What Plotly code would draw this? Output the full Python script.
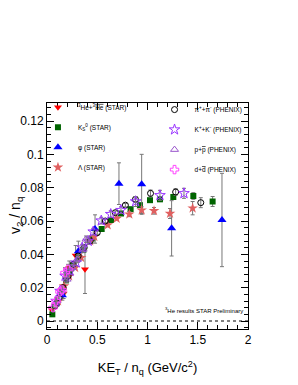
import plotly.graph_objects as go

# --- data ---
he3_x = [0.05, 0.105, 0.165, 0.222, 0.285, 0.378]
he3_y = [0.0065, 0.011, 0.0165, 0.032, 0.0393, 0.031]
he3_e = [0.002, 0.002, 0.003, 0.004, 0.006, 0.0145]

k0s_x = [0.053, 0.10, 0.15, 0.189, 0.225, 0.262, 0.31, 0.362, 0.451, 0.544, 0.637, 0.736, 0.832, 0.925, 1.025, 1.124, 1.257, 1.456, 1.648]
k0s_y = [0.004, 0.011, 0.017, 0.0244, 0.029, 0.033, 0.038, 0.0427, 0.0496, 0.0552, 0.0606, 0.0645, 0.0671, 0.0695, 0.0725, 0.073, 0.0744, 0.075, 0.0717]
k0s_e = [0.001, 0.001, 0.001, 0.001, 0.001, 0.001, 0.001, 0.001, 0.001, 0.001, 0.001, 0.001, 0.001, 0.001, 0.001, 0.001, 0.0015, 0.002, 0.003]

phi_x = [0.153, 0.312, 0.478, 0.716, 0.942, 1.24, 1.741]
phi_y = [0.0155, 0.0419, 0.0552, 0.0824, 0.082, 0.0556, 0.0606]
phi_e = [0.003, 0.006, 0.0085, 0.0125, 0.018, 0.0166, 0.028]

lam_x = [0.11, 0.17, 0.22, 0.28, 0.34, 0.43, 0.471, 0.604, 0.693, 0.819, 0.942, 1.065, 1.224, 1.449]
lam_y = [0.012, 0.021, 0.027, 0.032, 0.038, 0.048, 0.0506, 0.0576, 0.0615, 0.0641, 0.0665, 0.0661, 0.0645, 0.0677]
lam_e = [0.001, 0.001, 0.001, 0.001, 0.001, 0.001, 0.001, 0.001, 0.001, 0.0015, 0.002, 0.002, 0.003, 0.004]

pi_x = [0.08, 0.12, 0.16, 0.21, 0.26, 0.31, 0.37, 0.43, 0.50, 0.58, 0.68, 0.78, 0.88, 1.03, 1.28, 1.53]
pi_y = [0.009, 0.014, 0.020, 0.027, 0.034, 0.039, 0.044, 0.048, 0.053, 0.060, 0.065, 0.0695, 0.073, 0.0766, 0.0774, 0.071]
pi_e = [0.001, 0.001, 0.001, 0.001, 0.001, 0.001, 0.001, 0.001, 0.001, 0.001, 0.001, 0.001, 0.0015, 0.002, 0.002, 0.003]

k_x = [0.09, 0.13, 0.18, 0.23, 0.29, 0.35, 0.41, 0.46, 0.54, 0.634, 0.736, 0.882, 1.124, 1.363]
k_y = [0.012, 0.018, 0.027, 0.030, 0.035, 0.044, 0.048, 0.0536, 0.0602, 0.0641, 0.0665, 0.0717, 0.0754, 0.0766]
k_e = [0.001, 0.001, 0.002, 0.002, 0.002, 0.002, 0.002, 0.002, 0.002, 0.002, 0.002, 0.003, 0.003, 0.003]

p_x = [0.10, 0.15, 0.20, 0.25, 0.30, 0.36, 0.388]
p_y = [0.012, 0.018, 0.025, 0.032, 0.037, 0.043, 0.049]
p_e = [0.001, 0.001, 0.002, 0.002, 0.002, 0.002, 0.002]

d_x = [0.06, 0.09, 0.129, 0.149, 0.179, 0.21]
d_y = [0.008, 0.012, 0.0175, 0.0186, 0.029, 0.031]
d_e = [0.002, 0.002, 0.002, 0.002, 0.003, 0.003]

fig = go.Figure()

def add(x, y, e, name, symbol, color, legend, size=8, line=None):
    mk = dict(symbol=symbol, color=color, size=size)
    if line is not None:
        mk["line"] = dict(color=color, width=line)
    fig.add_trace(go.Scatter(
        x=x, y=y, mode="markers", name=name, legend=legend, legendgroup=name,
        marker=mk,
        error_y=dict(type="data", array=e, visible=True, color="#777777", thickness=1, width=2),
    ))

add(he3_x, he3_y, he3_e,
    "<sup>3</sup>He+<sup>3</sup><span style='text-decoration:overline'>He</span> (STAR)",
    "triangle-down", "#ff0000", "legend", size=7)
add(k0s_x, k0s_y, k0s_e, "K<sub>S</sub><sup>0</sup> (STAR)", "square", "#006400", "legend", size=6)
add(phi_x, phi_y, phi_e, "\u03c6 (STAR)", "triangle-up", "#0000ff", "legend", size=8)
add(lam_x, lam_y, lam_e, "\u039b (STAR)", "star", "#e06060", "legend", size=8)
add(pi_x, pi_y, pi_e, "\u03c0<sup>+</sup>+\u03c0<sup>-</sup> (PHENIX)", "circle-open", "#000000", "legend2", size=6, line=1)
add(k_x, k_y, k_e, "K<sup>+</sup>+K<sup>-</sup> (PHENIX)", "star-open", "#9933ff", "legend2", size=8, line=1)
add(p_x, p_y, p_e, "p+<span style='text-decoration:overline'>p</span> (PHENIX)", "triangle-up-open", "#9955cc", "legend2", size=7, line=1)
add(d_x, d_y, d_e, "d+<span style='text-decoration:overline'>d</span> (PHENIX)", "cross-open", "#ff44ff", "legend2", size=7, line=1)

fig.add_shape(type="line", xref="paper", yref="y", x0=0, x1=1, y0=0, y1=0,
              line=dict(color="black", width=1, dash="dot"))

fig.add_annotation(text="<sup>3</sup>He results STAR Preliminary", x=0.985, y=0.003,
                   xref="paper", yref="y", xanchor="right", yanchor="bottom",
                   showarrow=False, font=dict(size=6, color="black"))

# y-axis title as a rotated annotation near the left edge
fig.add_annotation(text="v<sub>2</sub> / n<sub>q</sub>", xref="paper", yref="paper",
                   x=(8 - 39) / 201, y=0.5, xanchor="center", yanchor="middle", textangle=-90,
                   showarrow=False, font=dict(size=14, color="black"))

axis_common = dict(showline=True, linecolor="black", linewidth=1, mirror="allticks",
                   ticks="inside", ticklen=7, tickcolor="black", showgrid=False, zeroline=False,
                   automargin=False, tickfont=dict(size=12, color="black"))

fig.update_xaxes(range=[0, 2], dtick=0.5, tick0=0,
                 minor=dict(dtick=0.1, ticks="inside", ticklen=4, tickcolor="black"),
                 title=dict(text="KE<sub>T</sub> / n<sub>q</sub> (GeV/c<sup>2</sup>)", font=dict(size=13, color="black"), standoff=16),
                 **axis_common)
fig.update_yaxes(range=[-0.0048, 0.1308],
                 tickvals=[0, 0.02, 0.04, 0.06, 0.08, 0.1, 0.12],
                 ticktext=["0", "0.02", "0.04", "0.06", "0.08", "0.1", "0.12"],
                 minor=dict(dtick=0.004, ticks="inside", ticklen=4, tickcolor="black"),
                 **axis_common)

fig.update_layout(
    width=298, height=385,
    margin=dict(l=39, r=58, t=95, b=64),
    paper_bgcolor="white", plot_bgcolor="white",
    font=dict(family="Liberation Sans, Arial, sans-serif", color="black"),
    legend=dict(x=-0.045, y=1.045, xanchor="left", yanchor="top", bgcolor="rgba(0,0,0,0)",
                font=dict(size=6.5), itemsizing="trace", tracegroupgap=1, itemwidth=30),
    legend2=dict(x=0.535, y=1.035, xanchor="left", yanchor="top", bgcolor="rgba(0,0,0,0)",
                 font=dict(size=6.5), itemsizing="trace", tracegroupgap=1, itemwidth=30),
)

fig.write_html("out.html")
